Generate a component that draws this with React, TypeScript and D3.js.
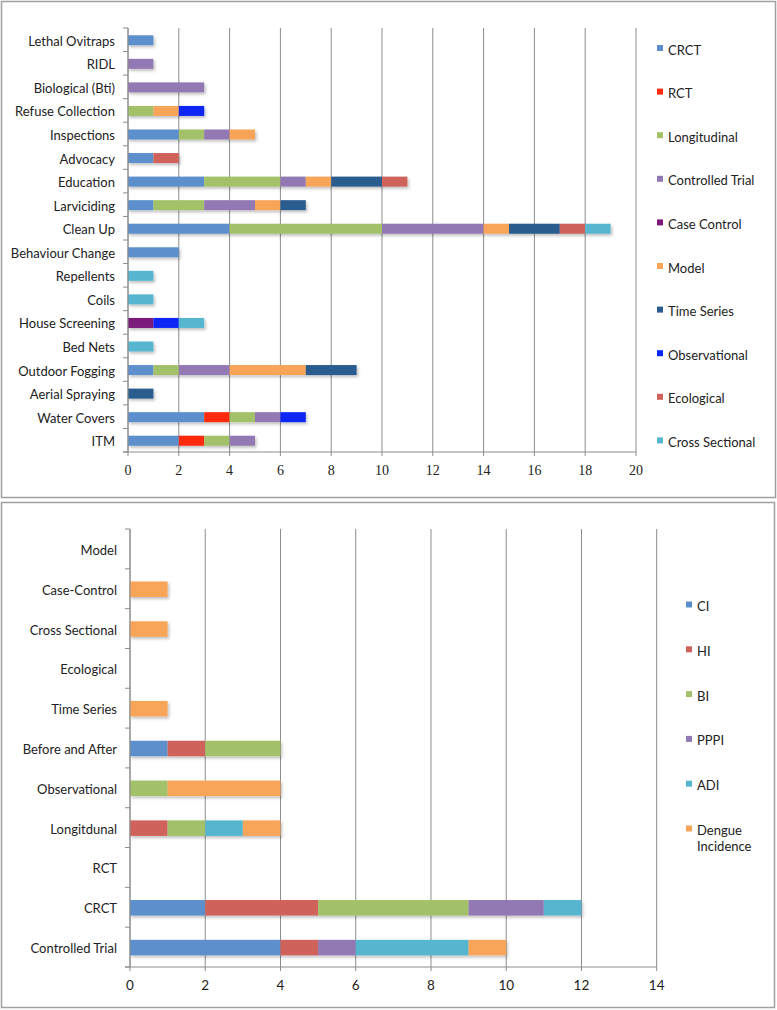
import React from "react";
import * as d3 from "d3";

// ---------- Top chart data ----------
const topCategories = [
  "ITM", "Water Covers", "Aerial Spraying", "Outdoor Fogging", "Bed Nets",
  "House Screening", "Coils", "Repellents", "Behaviour Change", "Clean Up",
  "Larviciding", "Education", "Advocacy", "Inspections", "Refuse Collection",
  "Biological (Bti)", "RIDL", "Lethal Ovitraps",
];
const topSeriesNames = [
  "CRCT", "RCT", "Longitudinal", "Controlled Trial", "Case Control",
  "Model", "Time Series", "Observational", "Ecological", "Cross Sectional",
];
const topColors = [
  "#5B8FCB", "#FF2A0A", "#A2C168", "#9279B3", "#7B1A7A",
  "#F8A55A", "#2A5B8E", "#0A26F5", "#D0625C", "#57B6CF",
];
const crct = [2, 3, 0, 1, 0, 0, 0, 0, 2, 4, 1, 3, 1, 2, 0, 0, 0, 1];
const rct = [1, 1, 0, 0, 0, 0, 0, 0, 0, 0, 0, 0, 0, 0, 0, 0, 0, 0];
const longitudinal = [1, 1, 0, 1, 0, 0, 0, 0, 0, 6, 2, 3, 0, 1, 1, 0, 0, 0];
const controlledTrial = [1, 1, 0, 2, 0, 0, 0, 0, 0, 4, 2, 1, 0, 1, 0, 3, 1, 0];
const caseControl = [0, 0, 0, 0, 0, 1, 0, 0, 0, 0, 0, 0, 0, 0, 0, 0, 0, 0];
const model = [0, 0, 0, 3, 0, 0, 0, 0, 0, 1, 1, 1, 0, 1, 1, 0, 0, 0];
const timeSeries = [0, 0, 1, 2, 0, 0, 0, 0, 0, 2, 1, 2, 0, 0, 0, 0, 0, 0];
const observational = [0, 1, 0, 0, 0, 1, 0, 0, 0, 0, 0, 0, 0, 0, 1, 0, 0, 0];
const ecological = [0, 0, 0, 0, 0, 0, 0, 0, 0, 1, 0, 1, 1, 0, 0, 0, 0, 0];
const crossSectional = [0, 0, 0, 0, 1, 1, 1, 1, 0, 1, 0, 0, 0, 0, 0, 0, 0, 0];
const topSeries = [
  crct, rct, longitudinal, controlledTrial, caseControl,
  model, timeSeries, observational, ecological, crossSectional,
];
const topTicks = [0, 2, 4, 6, 8, 10, 12, 14, 16, 18, 20];

// ---------- Bottom chart data ----------
const bottomCategories = [
  "Controlled Trial", "CRCT", "RCT", "Longitdunal", "Observational",
  "Before and After", "Time Series", "Ecological", "Cross Sectional",
  "Case-Control", "Model",
];
const bottomSeriesNames = ["CI", "HI", "BI", "PPPI", "ADI", "Dengue Incidence"];
const bottomColors = ["#5B8FCB", "#D0625C", "#A2C168", "#9279B3", "#57B6CF", "#F8A55A"];
const ci = [4, 2, 0, 0, 0, 1, 0, 0, 0, 0, 0];
const hi = [1, 3, 0, 1, 0, 1, 0, 0, 0, 0, 0];
const bi = [0, 4, 0, 1, 1, 2, 0, 0, 0, 0, 0];
const pppi = [1, 2, 0, 0, 0, 0, 0, 0, 0, 0, 0];
const adi = [3, 1, 0, 1, 0, 0, 0, 0, 0, 0, 0];
const dengueIncidence = [1, 0, 0, 1, 3, 0, 1, 0, 1, 1, 0];
const bottomSeries = [ci, hi, bi, pppi, adi, dengueIncidence];
const bottomTicks = [0, 2, 4, 6, 8, 10, 12, 14];

const SANS = "Lato, 'Open Sans', sans-serif";
const SERIF = "'Liberation Serif', 'DejaVu Serif', serif";
const LABEL_SIZE = 13;

type ChartProps = {
  categories: string[];
  seriesNames: string[];
  colors: string[];
  series: number[][];
  ticks: number[];
  x0: number;
  x1: number;
  y0: number;
  y1: number;
  barH: number;
  tickFont: string;
  tickSize: number;
  tickY: number;
  legendX: number;
  legendY0: number;
  legendStep: number;
  legendWrap?: Record<string, string[]>;
  id: string;
};

function StackedChart(p: ChartProps) {
  const maxV = p.ticks[p.ticks.length - 1];
  const x = d3.scaleLinear().domain([0, maxV]).range([p.x0, p.x1]);
  // categories listed bottom-to-top
  const y = d3
    .scaleBand<string>()
    .domain([...p.categories].reverse())
    .range([p.y0, p.y1])
    .paddingInner(0)
    .paddingOuter(0);
  const rows = p.categories.map((c, i) => {
    const r: Record<string, number | string> = { cat: c };
    p.seriesNames.forEach((s, k) => (r[s] = p.series[k][i]));
    return r;
  });
  const stack = d3.stack<Record<string, number | string>>().keys(p.seriesNames);
  const layers = stack(rows as any);
  const bw = y.bandwidth();
  const boundaries = d3.range(p.categories.length + 1).map((i) => p.y0 + i * bw);

  return (
    <g>
      {/* gridlines */}
      {p.ticks.map((t) => (
        <line
          key={"g" + t}
          x1={x(t)}
          x2={x(t)}
          y1={p.y0}
          y2={p.y1}
          stroke="#8c8c8c"
          strokeWidth={1}
        />
      ))}
      {/* bars */}
      <g filter={`url(#shadow-${p.id})`}>
        {layers.map((layer, k) =>
          layer.map((d, i) => {
            const w = x(d[1]) - x(d[0]);
            if (w <= 0) return null;
            const cat = p.categories[i];
            return (
              <rect
                key={k + "-" + i}
                x={x(d[0])}
                y={(y(cat) as number) + bw / 2 - p.barH / 2 + 0.5}
                width={w}
                height={p.barH}
                fill={p.colors[k]}
              />
            );
          })
        )}
      </g>
      {/* left axis */}
      <line x1={p.x0} x2={p.x0} y1={p.y0} y2={p.y1} stroke="#8c8c8c" />
      {boundaries.map((b, i) => (
        <line key={"bt" + i} x1={p.x0 - 5} x2={p.x0} y1={b} y2={b} stroke="#8c8c8c" />
      ))}
      {/* bottom axis */}
      <line x1={p.x0 - 5} x2={p.x1} y1={p.y1} y2={p.y1} stroke="#8c8c8c" />
      {p.ticks.map((t) => (
        <line key={"xt" + t} x1={x(t)} x2={x(t)} y1={p.y1} y2={p.y1 + 4} stroke="#8c8c8c" />
      ))}
      {p.ticks.map((t) => (
        <text
          key={"xl" + t}
          x={x(t)}
          y={p.tickY}
          textAnchor="middle"
          dominantBaseline="central"
          fontFamily={p.tickFont}
          fontSize={p.tickSize}
          fill="#222"
        >
          {t}
        </text>
      ))}
      {/* category labels */}
      {p.categories.map((c) => (
        <text
          key={"cl" + c}
          x={p.x0 - 13}
          y={(y(c) as number) + bw / 2 + 1}
          textAnchor="end"
          dominantBaseline="central"
          fontFamily={SANS}
          fontSize={LABEL_SIZE}
          fill="#222"
        >
          {c}
        </text>
      ))}
      {/* legend */}
      {p.seriesNames.map((s, k) => {
        const ly = p.legendY0 + k * p.legendStep;
        const lines = p.legendWrap && p.legendWrap[s] ? p.legendWrap[s] : [s];
        return (
          <g key={"lg" + s}>
            <rect x={p.legendX} y={ly - 4.5} width={6} height={6} fill={p.colors[k]} />
            {lines.map((ln, j) => (
              <text
                key={j}
                x={p.legendX + 11}
                y={ly + j * 15.5}
                dominantBaseline="central"
                fontFamily={SANS}
                fontSize={LABEL_SIZE}
                fill="#222"
              >
                {ln}
              </text>
            ))}
          </g>
        );
      })}
    </g>
  );
}

export default function App() {
  return (
    <svg
      width={777}
      height={1010}
      style={{ position: "absolute", left: 0, top: 0, background: "#fff" }}
    >
      <defs>
        {["top", "bottom"].map((id) => (
          <filter key={id} id={`shadow-${id}`} x="-10%" y="-50%" width="130%" height="250%">
            <feDropShadow dx={1.5} dy={2} stdDeviation={1.5} floodColor="#000" floodOpacity={0.25} />
          </filter>
        ))}
      </defs>
      <rect x={0} y={0} width={777} height={1010} fill="#fff" />
      {/* panel frames */}
      <rect x={1.5} y={1.5} width={774} height={496} fill="#fff" stroke="#a0a0a0" strokeWidth={1.5} />
      <rect x={1.5} y={502.5} width={773} height={505} fill="#fff" stroke="#a0a0a0" strokeWidth={1.5} />

      <StackedChart
        id="top"
        categories={topCategories}
        seriesNames={topSeriesNames}
        colors={topColors}
        series={topSeries}
        ticks={topTicks}
        x0={128}
        x1={636}
        y0={28}
        y1={452}
        barH={10}
        tickFont={SERIF}
        tickSize={14}
        tickY={470}
        legendX={657}
        legendY0={49.5}
        legendStep={43.6}
        legendWrap={{}}
      />
      <StackedChart
        id="bottom"
        categories={bottomCategories}
        seriesNames={bottomSeriesNames}
        colors={bottomColors}
        series={bottomSeries}
        ticks={bottomTicks}
        x0={130}
        x1={656.7}
        y0={529}
        y1={967}
        barH={15.5}
        tickFont={SANS}
        tickSize={13.5}
        tickY={985}
        legendX={686}
        legendY0={606}
        legendStep={44.8}
        legendWrap={{ "Dengue Incidence": ["Dengue", "Incidence"] }}
      />
    </svg>
  );
}
